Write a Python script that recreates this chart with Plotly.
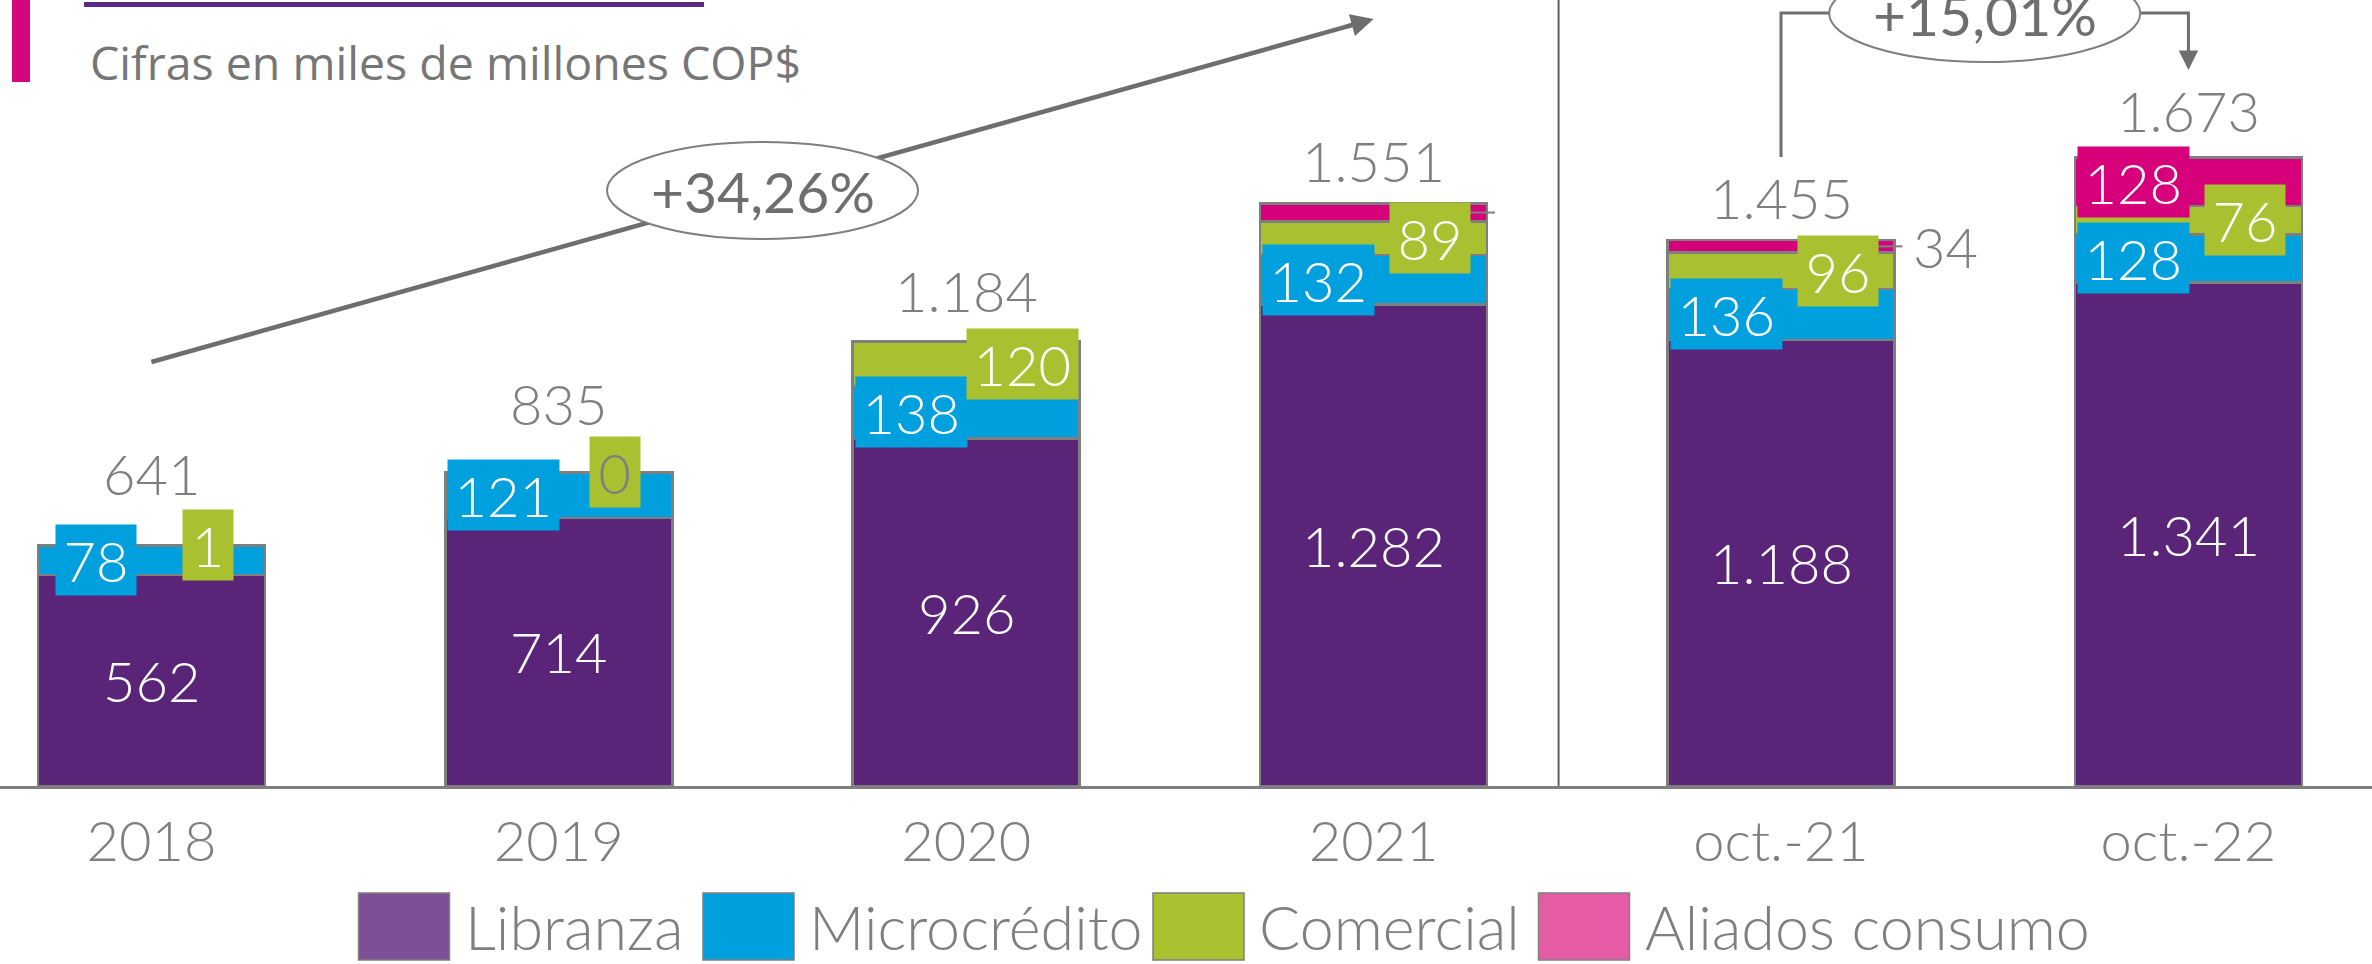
import plotly.graph_objects as go

# ---------------- data ----------------
categories = ["2018", "2019", "2020", "2021", "oct.-21", "oct.-22"]
libranza = [562, 714, 926, 1282, 1188, 1341]
microcredito = [78, 121, 138, 132, 136, 128]
comercial = [1, 0, 120, 89, 96, 76]
aliados = [0, 0, 0, 48, 34, 128]
totales = [641, 835, 1184, 1551, 1455, 1673]
series_names = ["Libranza", "Microcrédito", "Comercial", "Aliados consumo"]
crecimiento_anual = "+34,26%"
crecimiento_oct = "+15,01%"
subtitulo = "Cifras en miles de millones COP$"

# ---------------- geometry / style ----------------
W, H = 2372, 964
PLOT_H = 786                 # pixel row of the baseline
Y_MAX = 2093
X_RANGE = [-0.3716, 5.4506]
CAT_PX = W / (X_RANGE[1] - X_RANGE[0])
BAR_W = 0.557
HALF_BAR_PX = BAR_W * CAT_PX / 2

bar_colors = ["#5A2479", "#009FDD", "#A9C130", "#D6007A"]
legend_colors = ["#7D4F96", "#00A0DF", "#A9C22F", "#E55BA4"]
GRAY = "#7F7F7F"
DARKGRAY = "#6E6E6E"
FONT = "Lato"
LBL = 56
total_yshift = [72, 69, 51, 43, 42, 47]
micro_dx = [17, 2, 2, 2, 2, 2]
comercial_font = ["white", GRAY, "white", "white", "white", "white"]
aliados_mode = [None, None, None, "line", "outside", "box"]


def fmt(v):
    return f"{v:,}".replace(",", ".")


def py(p):  # pixel row -> paper y
    return (PLOT_H - p) / PLOT_H


def px(p):  # pixel column -> paper x
    return p / W


def uy(p):  # pixel row -> data y
    return (PLOT_H - p) * Y_MAX / PLOT_H


def box_w(t):
    return 30.5 * len(t) + 19


fig = go.Figure()
for name, vals, col in zip(series_names, [libranza, microcredito, comercial, aliados], bar_colors):
    fig.add_bar(x=categories, y=vals, name=name, width=BAR_W,
                marker=dict(color=col, line=dict(color=GRAY, width=2.5)),
                showlegend=False, hoverinfo="skip")

ann = []
shapes = []
lf = dict(family=FONT, size=LBL, color="white", weight=300)

for i in range(len(categories)):
    b1 = libranza[i]
    b2 = b1 + microcredito[i]
    b3 = b2 + comercial[i]
    # libranza
    ann.append(dict(x=i, y=b1 / 2, text=fmt(libranza[i]), showarrow=False, font=lf))
    # microcredito
    t = fmt(microcredito[i])
    ann.append(dict(x=i, y=(b1 + b2) / 2, text=t, showarrow=False, font=lf,
                    xanchor="left", xshift=-HALF_BAR_PX + micro_dx[i],
                    bgcolor=bar_colors[1], width=box_w(t), height=70, borderpad=0))
    # comercial
    t = fmt(comercial[i])
    ann.append(dict(x=i, y=(b2 + b3) / 2, text=t, showarrow=False,
                    font=dict(family=FONT, size=LBL, color=comercial_font[i], weight=300),
                    xanchor="center", xshift=56.5,
                    bgcolor=bar_colors[2], width=box_w(t), height=70, borderpad=0))
    # aliados
    mid = b3 + aliados[i] / 2
    mode = aliados_mode[i]
    if mode in ("line", "outside"):
        gx0 = i + (56.5 + box_w(fmt(comercial[i])) / 2) / CAT_PX
        gx1 = i + (HALF_BAR_PX + 8) / CAT_PX
        shapes.append(dict(type="line", xref="x", yref="y", x0=gx0, x1=gx1, y0=mid, y1=mid,
                           line=dict(color=GRAY, width=2)))
        if mode == "outside":
            ann.append(dict(x=i, y=mid, text=fmt(aliados[i]), showarrow=False,
                            font=dict(family=FONT, size=LBL, color=GRAY, weight=300),
                            xanchor="left", xshift=HALF_BAR_PX + 17))
    elif mode == "box":
        t = fmt(aliados[i])
        ann.append(dict(x=i, y=mid, text=t, showarrow=False, font=lf,
                        xanchor="left", xshift=-HALF_BAR_PX + 2,
                        bgcolor=bar_colors[3], width=box_w(t), height=70, borderpad=0))
    # total
    ann.append(dict(x=i, y=totales[i], text=fmt(totales[i]), showarrow=False,
                    yshift=total_yshift[i],
                    font=dict(family=FONT, size=LBL, color=GRAY, weight=300)))

# ---------- growth arrow 2018 -> 2021 ----------
a_y0, a_y1 = uy(362), uy(19)
shapes.append(dict(type="line", xref="x", yref="y", x0=0, y0=a_y0, x1=3 - 12 / CAT_PX, y1=a_y1 - 3.4 * Y_MAX / PLOT_H,
                   line=dict(color=DARKGRAY, width=4.5)))
ann.append(dict(x=3, y=a_y1, text="", showarrow=True, arrowhead=2, arrowsize=1,
                arrowwidth=4.5, arrowcolor=DARKGRAY, ax=-29, ay=8.1, standoff=0))
ex, ew = 1.5, 311 / CAT_PX
shapes.append(dict(type="circle", xref="x", yref="y", x0=ex - ew / 2, x1=ex + ew / 2,
                   y0=uy(239), y1=uy(142), fillcolor="white", line=dict(color=GRAY, width=2)))
ann.append(dict(x=ex, y=uy(191), text=crecimiento_anual, showarrow=False,
                font=dict(family=FONT, size=57, color=DARKGRAY)))

# ---------- bracket oct-21 -> oct-22 ----------
by_top = uy(13)
shapes.append(dict(type="path", xref="x", yref="y",
                   path=f"M 4 {uy(157)} L 4 {by_top} L 5 {by_top} L 5 {uy(60)}",
                   line=dict(color=DARKGRAY, width=3)))
ann.append(dict(x=5, y=uy(70), text="", showarrow=True, arrowhead=2, arrowsize=1.3,
                arrowwidth=3, arrowcolor=DARKGRAY, ax=0, ay=-22, standoff=0))
ex2 = 4.5
shapes.append(dict(type="circle", xref="x", yref="y", x0=ex2 - ew / 2, x1=ex2 + ew / 2,
                   y0=uy(62), y1=uy(-35), fillcolor="white", line=dict(color=GRAY, width=2)))
ann.append(dict(x=ex2, y=uy(14), text=crecimiento_oct, showarrow=False,
                font=dict(family=FONT, size=57, color=DARKGRAY)))

# ---------- separator ----------
shapes.append(dict(type="line", xref="x", yref="paper", x0=3.454, x1=3.454, y0=0, y1=1,
                   line=dict(color="#5F5F5F", width=2)))

# ---------- header ----------
shapes.append(dict(type="rect", xref="paper", yref="paper", x0=px(12), x1=px(30),
                   y0=py(82), y1=py(-2), fillcolor="#D6057E", line=dict(width=0)))
shapes.append(dict(type="line", xref="paper", yref="paper", x0=px(84), x1=px(704),
                   y0=py(4.5), y1=py(4.5), line=dict(color="#5B2A86", width=5)))
ann.append(dict(xref="paper", yref="paper", x=px(88), y=py(62), xanchor="left", yanchor="middle",
                text=subtitulo, showarrow=False, font=dict(family="Open Sans", size=46.5, color="#767676")))

# ---------- legend ----------
leg_left = [358.5, 703, 1153, 1538.5]
for name, col, l in zip(series_names, legend_colors, leg_left):
    shapes.append(dict(type="rect", xref="paper", yref="paper", x0=px(l), x1=px(l + 91),
                       y0=py(960), y1=py(893), fillcolor=col, line=dict(color=GRAY, width=1.5)))
    ann.append(dict(xref="paper", yref="paper", x=px(l + 104), y=py(926.5), xanchor="left",
                    yanchor="middle", text=name, showarrow=False,
                    font=dict(family=FONT, size=61, color=GRAY, weight=300)))

fig.update_layout(
    width=W, height=H, autosize=False, barmode="stack",
    margin=dict(l=0, r=0, t=0, b=H - PLOT_H),
    paper_bgcolor="white", plot_bgcolor="white",
    shapes=shapes, annotations=ann,
    xaxis=dict(range=X_RANGE, showgrid=False, zeroline=False, showline=True,
               linecolor=GRAY, linewidth=3, ticks="", ticklabelstandoff=5,
               tickfont=dict(family=FONT, size=LBL, color=GRAY, weight=300),
               fixedrange=True),
    yaxis=dict(range=[0, Y_MAX], showgrid=False, zeroline=False, showticklabels=False,
               showline=False, fixedrange=True),
)

fig.write_html("out.html", config={"displayModeBar": False},
               post_script="document.body.style.margin='0px';document.body.style.overflow='hidden';")
